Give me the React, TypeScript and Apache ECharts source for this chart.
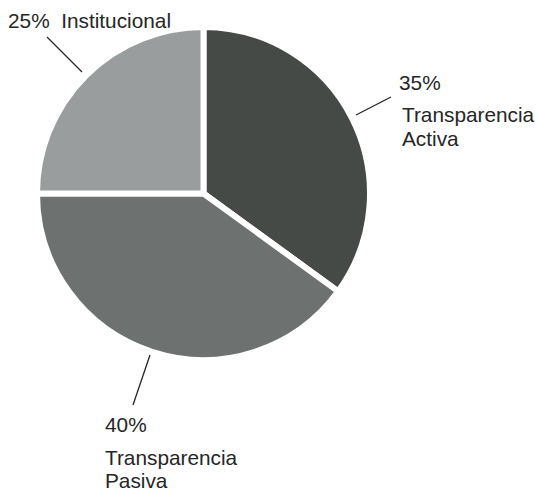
import React, { useEffect, useRef } from "react";
import * as echarts from "echarts";

const categories = ["Transparencia Activa", "Transparencia Pasiva", "Institucional"];
const values = [35, 40, 25];
const colors = ["#464a47", "#6d7170", "#999d9d"];

export default function App() {
  const ref = useRef<HTMLDivElement>(null);
  useEffect(() => {
    if (!ref.current) return;
    const chart = echarts.init(ref.current, null, { renderer: "svg" });
    const font = "'Liberation Sans', Arial, Helvetica, sans-serif";
    const txt = (text: string, x: number, y: number) => ({
      type: "text",
      x,
      y,
      style: {
        text,
        fill: "#262626",
        font: `20.8px ${font}`,
        textAlign: "left",
        textVerticalAlign: "middle",
      },
    });
    const ln = (x1: number, y1: number, x2: number, y2: number) => ({
      type: "line",
      shape: { x1, y1, x2, y2 },
      style: { stroke: "#262626", lineWidth: 1.3 },
    });
    const [a, p, ins] = categories.map((c) => c.split(" "));
    chart.setOption({
      animation: false,
      backgroundColor: "#ffffff",
      series: [
        {
          type: "pie",
          center: [203.5, 193.5],
          radius: [0, 166.5],
          startAngle: 90,
          clockwise: true,
          label: { show: false },
          labelLine: { show: false },
          itemStyle: { borderColor: "#ffffff", borderWidth: 6 },
          emphasis: { disabled: true },
          data: categories.map((name, i) => ({
            name,
            value: values[i],
            itemStyle: { color: colors[i] },
          })),
        },
      ],
      graphic: [
        txt(`${values[2]}%  ${ins.join(" ")}`, 8, 20),
        ln(47, 37, 82, 72),
        txt(`${values[0]}%`, 399, 82),
        txt(a[0], 402, 114.5),
        txt(a[1], 402, 138.5),
        ln(356, 115, 391, 97),
        txt(`${values[1]}%`, 105, 424.5),
        txt(p[0], 105, 457.5),
        txt(p[1], 105, 480.5),
        ln(150, 355, 133, 405),
      ],
    });
    return () => chart.dispose();
  }, []);
  return (
    <div
      ref={ref}
      style={{ position: "fixed", left: 0, top: 0, width: 537, height: 492 }}
    />
  );
}
